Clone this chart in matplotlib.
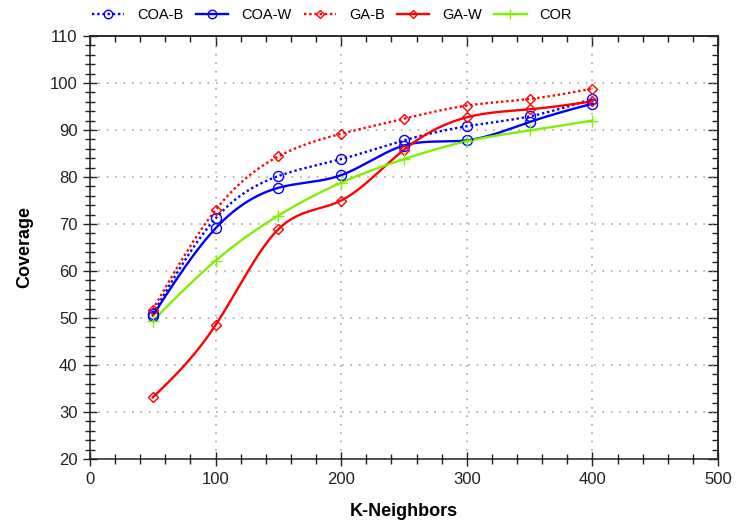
import numpy as np
import matplotlib
matplotlib.use("Agg")
import matplotlib.pyplot as plt
from matplotlib.ticker import MultipleLocator, NullFormatter

plt.rcParams['font.family'] = ['Liberation Sans', 'DejaVu Sans']

k = [50, 100, 150, 200, 250, 300, 350, 400]
coa_b = [50.9, 71.2, 80.2, 83.8, 87.8, 90.8, 92.9, 96.6]
coa_w = [50.5, 69.1, 77.7, 80.4, 86.7, 87.8, 91.7, 95.6]
ga_b = [51.8, 73.0, 84.4, 89.2, 92.4, 95.2, 96.6, 98.8]
ga_w = [33.1, 48.5, 68.9, 75.0, 85.8, 92.7, 94.4, 96.1]
cor = [49.4, 62.2, 71.8, 78.8, 83.8, 87.6, 89.9, 92.0]

series = [
    ("COA-B", coa_b, dict(color='#0000FF', ls=(0, (1, 1.2)), marker='o', ms=7.2)),
    ("COA-W", coa_w, dict(color='#0000FF', ls='-', marker='o', ms=7.2)),
    ("GA-B", ga_b, dict(color='#FF0000', ls=(0, (1, 1.2)), marker='D', ms=5)),
    ("GA-W", ga_w, dict(color='#FF0000', ls='-', marker='D', ms=5)),
    ("COR", cor, dict(color='#80F000', ls='-', marker='+', ms=9)),
]


def natural_spline(x, y, n=300):
    x = np.asarray(x, float)
    y = np.asarray(y, float)
    m = len(x)
    h = np.diff(x)
    A = np.zeros((m, m))
    r = np.zeros(m)
    A[0, 0] = 1
    A[-1, -1] = 1
    for i in range(1, m - 1):
        A[i, i - 1] = h[i - 1]
        A[i, i] = 2 * (h[i - 1] + h[i])
        A[i, i + 1] = h[i]
        r[i] = 3 * ((y[i + 1] - y[i]) / h[i] - (y[i] - y[i - 1]) / h[i - 1])
    c = np.linalg.solve(A, r)
    b = np.zeros(m - 1)
    d = np.zeros(m - 1)
    for i in range(m - 1):
        b[i] = (y[i + 1] - y[i]) / h[i] - h[i] * (2 * c[i] + c[i + 1]) / 3
        d[i] = (c[i + 1] - c[i]) / (3 * h[i])
    xs = np.linspace(x[0], x[-1], n)
    idx = np.clip(np.searchsorted(x, xs) - 1, 0, m - 2)
    dx = xs - x[idx]
    ys = y[idx] + b[idx] * dx + c[idx] * dx ** 2 + d[idx] * dx ** 3
    return xs, ys


fig = plt.figure(figsize=(7.51, 5.24), dpi=100)
ax = fig.add_axes([90 / 751, 1 - 459 / 524, 628 / 751, 423 / 524])

handles = []
for name, vals, st in series:
    xs, ys = natural_spline(k, vals)
    ax.plot(xs, ys, color=st['color'], ls=st['ls'], lw=1.7, zorder=3)
    ax.plot(k, vals, ls='none', marker=st['marker'], ms=st['ms'],
            mfc='none', mec=st['color'], mew=1.0, zorder=4)
    h, = ax.plot([], [], color=st['color'], ls=st['ls'], lw=1.7,
                 marker=st['marker'], ms=st['ms'] * 0.85, mfc='none',
                 mec=st['color'], mew=1.0, label=name)
    handles.append(h)

ax.set_xlim(0, 500)
ax.set_ylim(20, 110)
ax.xaxis.set_major_locator(MultipleLocator(100))
ax.xaxis.set_minor_locator(MultipleLocator(20))
ax.yaxis.set_major_locator(MultipleLocator(10))
ax.yaxis.set_minor_locator(MultipleLocator(2))

ax.grid(True, which='major', color='#999999', ls=(0, (1, 4.5)), lw=1.1)
ax.tick_params(axis='both', which='major', labelsize=12, length=10,
               direction='inout', width=1.0, colors='#222222',
               labelcolor='#222222', pad=4)
ax.tick_params(axis='both', which='minor', length=6.5, direction='inout',
               width=1.0, colors='#222222')
for sp in ax.spines.values():
    sp.set_color('#222222')
    sp.set_linewidth(1.1)

sx = ax.secondary_xaxis('top')
sx.xaxis.set_major_locator(MultipleLocator(100))
sx.xaxis.set_minor_locator(MultipleLocator(20))
sx.xaxis.set_major_formatter(NullFormatter())
sx.tick_params(which='major', direction='in', length=7, width=1.0, colors='#222222')
sx.tick_params(which='minor', direction='in', length=4.5, width=1.0, colors='#222222')
sx.spines['top'].set_linewidth(1.1)
sx.spines['top'].set_color('#222222')

sy = ax.secondary_yaxis('right')
sy.yaxis.set_major_locator(MultipleLocator(10))
sy.yaxis.set_minor_locator(MultipleLocator(2))
sy.yaxis.set_major_formatter(NullFormatter())
sy.tick_params(which='major', direction='in', length=7, width=1.0, colors='#222222')
sy.tick_params(which='minor', direction='in', length=4.5, width=1.0, colors='#222222')
sy.spines['right'].set_linewidth(1.1)
sy.spines['right'].set_color('#222222')

ax.set_xlabel('K-Neighbors', fontsize=13, fontweight='bold', labelpad=12)
ax.set_ylabel('Coverage', fontsize=13, fontweight='bold', labelpad=12)

fig.legend(handles=handles, loc='upper left', ncol=5, frameon=False,
           bbox_to_anchor=(92 / 751, 1 - 8 / 524), fontsize=10.5,
           handlelength=2.2, columnspacing=0.85, handletextpad=0.9,
           borderpad=0, borderaxespad=0)

fig.savefig('out.png', dpi=100)
